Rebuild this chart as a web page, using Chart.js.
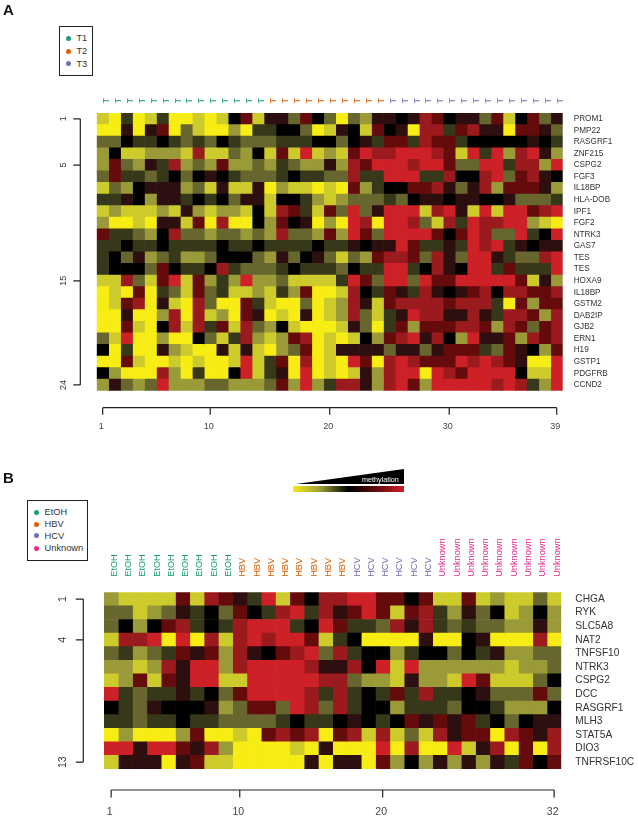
<!DOCTYPE html>
<html lang="en">
<head>
<meta charset="UTF-8">
<title>Methylation heatmaps</title>
<script src="https://cdn.jsdelivr.net/npm/chart.js"></script>
<style>
  html, body { margin: 0; padding: 0; background: #fff; }
  #page { position: relative; width: 638px; height: 820px; overflow: hidden; font-family: "Liberation Sans", Arial, sans-serif; }
  canvas { position: absolute; left: 0; filter: blur(0.35px); }
  .panel { position: absolute; left: 3px; font-size: 15px; font-weight: bold; color: #111; line-height: 15px; }
  .legend { position: absolute; box-sizing: border-box; border: 1.5px solid #222; background: #fff; color: #333; }
  .legend span { position: absolute; white-space: nowrap; }
  .legend i { position: absolute; width: 5px; height: 5px; border-radius: 50%; }
  #wedge { position: absolute; left: 296px; top: 469px; width: 108px; height: 15px; background: #000; clip-path: polygon(0 100%, 100% 0, 100% 100%); }
  #wedgeText { position: absolute; left: 362px; top: 475px; font-size: 7.2px; line-height: 9px; color: #fff; }
  #ramp { position: absolute; left: 293px; top: 486px; width: 111px; height: 6px; }
</style>
</head>
<body>
<div id="page">
  <canvas id="chartA" width="638" height="440" style="top:0"></canvas>
  <canvas id="chartB" width="638" height="380" style="top:440px"></canvas>
  <div class="panel" style="top:2px">A</div>
  <div class="panel" style="top:470px">B</div>
  <div id="legendA"></div>
  <div id="legendB"></div>
  <div id="wedge"></div>
  <div id="wedgeText">methylation</div>
  <div id="ramp"></div>
</div>

<script>
// methylation levels: 0 = yellow, 5 = black, 9 = red
const levelColors = ['#f7ec13', '#cdcb2c', '#9a9a38', '#66662e', '#37371a', '#000000', '#2e0f0f', '#650b0b', '#9a1a1e', '#cd2027'];
const groupColors = ['#1b9e77', '#d95f02', '#7570b3', '#e7298a'];

const genesA = ['PROM1', 'PMP22', 'RASGRF1', 'ZNF215', 'CSPG2', 'FGF3', 'IL18BP', 'HLA-DOB', 'IPF1', 'FGF2', 'NTRK3', 'GAS7',
  'TES', 'TES', 'HOXA9', 'IL18BP', 'GSTM2', 'DAB2IP', 'GJB2', 'ERN1', 'H19', 'GSTP1', 'PDGFRB', 'CCND2'];
const colLabelsA = ['T','T','T','T','T','T','T','T','T','T','T','T','T','T','T','T','T','T','T','T','T','T','T','T','T','T','T','T','T','T','T','T','T','T','T','T','T','T','T'];
const colGroupsA = [0,0,0,0,0,0,0,0,0,0,0,0,0,0,1,1,1,1,1,1,1,1,1,1,2,2,2,2,2,2,2,2,2,2,2,2,2,2,2];
const legendA = ['T1', 'T2', 'T3'];
const rowTicksA = [1, 5, 15, 24];
const colTicksA = [1, 10, 20, 30, 39];
const heatA = [
  [1,0,4,0,1,4,0,0,1,0,1,5,7,1,6,6,3,7,5,3,0,3,2,6,6,5,6,8,7,5,6,6,3,7,1,5,7,3,6],
  [0,0,6,0,6,7,0,3,1,0,0,2,0,4,4,5,5,3,0,1,6,5,1,7,5,6,0,8,8,4,7,8,6,6,0,7,7,6,3],
  [3,3,5,4,4,5,4,3,4,3,5,4,3,3,3,4,4,4,5,5,3,5,6,4,7,7,4,8,7,7,4,5,5,5,5,5,6,5,4],
  [2,5,1,1,2,2,2,1,8,1,1,3,2,5,1,7,1,9,1,2,1,7,9,8,8,9,9,9,8,7,1,9,4,9,2,8,9,6,2],
  [2,7,3,2,6,4,8,2,3,2,7,2,2,3,2,4,3,2,2,6,2,8,7,9,9,9,8,9,9,7,3,3,9,9,4,8,8,2,9],
  [3,7,4,4,3,4,5,3,5,6,5,4,3,3,3,4,5,4,4,3,3,8,4,4,9,9,9,4,4,8,5,5,8,9,3,7,8,6,5],
  [1,3,2,5,6,6,6,2,3,1,6,1,1,6,0,2,1,1,0,1,0,7,2,4,5,5,7,7,8,6,3,6,8,2,7,7,7,6,2],
  [4,4,6,5,2,6,6,4,5,4,5,3,6,6,1,5,5,4,2,1,2,3,3,3,4,3,5,6,6,5,6,6,5,5,6,3,3,3,4],
  [1,2,1,1,1,2,1,6,2,1,2,2,1,5,1,8,7,4,1,7,3,9,3,6,9,9,9,1,8,9,6,1,9,1,9,9,7,8,9],
  [2,0,0,1,0,6,6,1,7,0,8,0,0,5,2,7,5,6,0,2,0,9,8,0,9,9,8,3,1,8,4,9,8,8,9,9,2,1,0],
  [7,4,4,3,2,5,8,3,3,2,3,3,2,3,2,8,3,3,2,7,2,9,7,3,9,9,9,9,7,5,7,9,8,3,3,9,4,5,9],
  [4,4,5,4,4,5,4,4,4,4,5,4,4,5,4,4,4,4,5,4,4,6,5,6,6,9,7,4,4,6,4,9,8,9,4,6,5,6,6],
  [4,5,3,6,2,3,4,2,2,3,5,5,5,3,2,6,3,5,6,3,1,3,2,7,8,8,7,3,8,6,3,9,9,6,4,3,3,8,9],
  [4,5,5,5,3,7,5,4,4,5,8,4,3,3,3,4,5,4,4,4,3,5,4,4,9,9,4,5,8,6,5,9,9,4,7,4,4,4,9],
  [1,1,8,3,1,7,9,1,7,2,4,2,9,2,2,3,1,1,1,1,4,9,7,3,9,9,3,9,7,7,9,9,9,9,9,7,1,6,2],
  [0,1,0,7,0,4,3,1,7,3,4,1,1,2,1,4,2,7,0,0,1,8,5,4,7,6,4,8,6,5,6,7,8,5,8,8,7,7,8],
  [0,1,7,8,0,6,1,0,8,3,0,0,7,4,1,0,0,3,0,1,2,8,6,1,7,8,8,8,8,7,8,8,8,4,0,7,2,7,7],
  [0,0,6,0,0,2,8,0,8,1,2,0,7,6,0,1,0,6,0,1,2,8,3,1,4,6,9,8,8,6,6,8,6,4,8,8,7,2,8],
  [0,0,7,1,0,5,8,1,8,4,7,1,8,3,2,5,1,0,0,0,1,6,3,0,4,7,2,7,7,7,8,8,7,2,8,7,3,7,8],
  [3,1,9,0,0,2,0,0,5,3,1,4,8,2,1,2,7,8,0,1,0,1,5,2,7,8,9,6,8,5,2,9,6,6,7,2,8,7,8],
  [5,0,4,0,0,6,2,1,0,0,6,1,6,1,0,2,3,7,0,1,6,6,6,6,3,6,6,3,6,7,7,7,4,3,7,6,5,2,7],
  [0,0,7,1,0,0,1,0,1,0,0,1,9,1,4,7,0,8,0,1,0,9,7,0,8,9,8,7,7,7,9,8,9,8,7,6,0,0,9],
  [5,2,0,0,0,8,2,0,4,0,0,5,9,1,4,6,0,9,0,1,0,1,6,2,8,9,9,0,9,8,7,9,9,9,9,5,1,1,9],
  [2,6,3,2,3,9,2,2,2,3,3,2,2,2,3,7,2,9,2,4,8,8,6,2,8,9,7,2,9,9,9,9,9,8,9,8,4,2,9]
];

const genesB = ['CHGA', 'RYK', 'SLC5A8', 'NAT2', 'TNFSF10', 'NTRK3', 'CSPG2', 'DCC', 'RASGRF1', 'MLH3', 'STAT5A', 'DIO3', 'TNFRSF10C'];
const colLabelsB = ['EtOH','EtOH','EtOH','EtOH','EtOH','EtOH','EtOH','EtOH','EtOH','HBV','HBV','HBV','HBV','HBV','HBV','HBV','HBV','HCV','HCV','HCV','HCV','HCV','HCV','Unknown','Unknown','Unknown','Unknown','Unknown','Unknown','Unknown','Unknown','Unknown'];
const colGroupsB = [0,0,0,0,0,0,0,0,0,1,1,1,1,1,1,1,1,2,2,2,2,2,2,3,3,3,3,3,3,3,3,3];
const legendB = ['EtOH', 'HBV', 'HCV', 'Unknown'];
const rowTicksB = [1, 4, 13];
const colTicksB = [1, 10, 20, 32];
const heatB = [
  [2,1,1,1,1,7,1,8,7,6,4,9,1,7,5,8,8,9,9,7,7,5,7,1,1,7,1,2,1,1,3,1],
  [3,3,1,2,3,6,4,5,3,7,5,4,8,9,4,8,6,7,9,7,1,7,8,4,2,6,3,5,1,2,5,2],
  [3,5,2,5,7,8,4,5,4,8,9,9,9,4,5,9,7,4,4,3,8,6,8,4,3,4,3,3,2,2,6,2],
  [1,8,8,9,0,9,0,8,1,8,9,8,9,9,7,1,4,5,0,0,0,0,6,0,0,5,6,0,0,0,8,0],
  [3,4,2,3,4,7,6,7,2,8,6,5,7,8,9,3,8,4,5,5,2,4,5,5,3,5,4,6,2,2,3,3],
  [2,2,1,2,8,6,9,9,2,8,9,9,9,9,8,6,6,8,5,9,1,9,2,2,2,2,2,2,1,2,2,3],
  [1,2,7,1,7,6,9,9,1,1,9,9,9,9,9,8,8,3,2,2,1,6,2,2,1,9,7,1,1,1,3,5],
  [9,4,3,4,4,6,4,5,3,7,9,9,9,9,8,4,8,4,5,4,7,4,8,4,4,5,6,3,3,3,7,3],
  [5,4,3,6,5,5,5,6,2,3,7,7,3,9,8,3,8,4,5,5,2,4,4,4,3,5,5,4,2,2,2,5],
  [4,4,3,4,4,5,4,4,3,3,3,3,4,5,4,4,5,6,5,4,5,7,6,7,6,7,4,5,3,5,6,6],
  [0,2,0,0,0,2,7,0,0,1,0,7,8,7,8,0,7,8,1,8,1,3,1,8,6,7,7,0,8,7,6,8],
  [9,9,6,9,9,7,6,8,2,0,0,0,0,1,0,6,0,0,0,9,0,8,0,0,9,1,6,8,0,7,0,8],
  [1,6,6,6,0,6,7,1,1,0,0,0,0,0,6,0,6,6,0,7,2,5,2,6,2,6,2,6,4,7,5,7]
];

// R style detached axes: bracket line with ticks, placed off the plot area
const bracketPlugin = {
  id: 'bracket',
  afterDraw(chart, args, opts) {
    const ctx = chart.ctx, area = chart.chartArea;
    const left = chart.scales.rowAxis, bottom = chart.scales.x;
    ctx.save();
    ctx.strokeStyle = '#222';
    ctx.lineWidth = 1.2;
    ctx.beginPath();
    const lineX = opts.lineX;
    ctx.moveTo(lineX, left.getPixelForValue(opts.rowTicks[0]));
    ctx.lineTo(lineX, left.getPixelForValue(opts.rowTicks[opts.rowTicks.length - 1]));
    opts.rowTicks.forEach(v => {
      const y = left.getPixelForValue(v);
      ctx.moveTo(lineX - opts.tick, y);
      ctx.lineTo(lineX, y);
    });
    const lineY = area.bottom + opts.gapY;
    ctx.moveTo(bottom.getPixelForValue(opts.colTicks[0]), lineY);
    ctx.lineTo(bottom.getPixelForValue(opts.colTicks[opts.colTicks.length - 1]), lineY);
    opts.colTicks.forEach(v => {
      const x = bottom.getPixelForValue(v);
      ctx.moveTo(x, lineY);
      ctx.lineTo(x, lineY + opts.tick);
    });
    ctx.stroke();
    ctx.restore();
  }
};

function useTicks(values) {
  return scale => { scale.ticks = values.map(v => ({ value: v })); };
}
function fixHeight(h) { return scale => { scale.height = h; }; }
function fixWidth(w) { return scale => { scale.width = w; }; }

function heatmap(id, heat, genes, colLabels, colGroups, rowTicks, colTicks, lay) {
  const nCols = heat[0].length, nRows = heat.length;
  const colIndex = colLabels.map((_, i) => i + 1);
  const datasets = colIndex.map(c => ({
    data: heat.map(() => [c - 0.5, c + 0.5]),
    backgroundColor: heat.map(row => levelColors[row[c - 1]]),
    borderWidth: 0,
    barPercentage: 1,
    categoryPercentage: 1,
    grouped: false
  }));
  const hidden = { display: false, drawTicks: false };
  return new Chart(document.getElementById(id), {
    type: 'bar',
    plugins: [bracketPlugin],
    data: { labels: genes, datasets: datasets },
    options: {
      indexAxis: 'y',
      responsive: false,
      animation: false,
      layout: { autoPadding: false, padding: 0 },
      plugins: {
        legend: { display: false },
        tooltip: { enabled: false },
        bracket: { lineX: lay.lineX, gapY: lay.gapY, tick: lay.tick, rowTicks: rowTicks, colTicks: colTicks }
      },
      scales: {
        x: {
          type: 'linear', position: 'bottom', min: 0.5, max: nCols + 0.5,
          grid: hidden, border: { display: false },
          afterBuildTicks: useTicks(colTicks),
          afterFit: fixHeight(lay.bottom),
          ticks: { autoSkip: false, padding: lay.colPad, labelOffset: -1.5, color: '#444', font: { size: lay.numFont } }
        },
        colAxis: {
          axis: 'x', type: 'linear', position: 'top', min: 0.5, max: nCols + 0.5,
          grid: hidden, border: { display: false },
          afterBuildTicks: useTicks(colIndex),
          afterFit: fixHeight(lay.top),
          ticks: {
            autoSkip: false, padding: lay.topPad, labelOffset: lay.topShift, minRotation: 90, maxRotation: 90,
            font: { size: lay.topFont },
            color: c => groupColors[colGroups[c.index]],
            callback: (v, i) => colLabels[i]
          }
        },
        y: {
          type: 'category', position: 'right', offset: true,
          grid: hidden, border: { display: false },
          afterFit: fixWidth(lay.right),
          ticks: { autoSkip: false, padding: lay.genePad, color: '#333', font: { size: lay.geneFont } }
        },
        rowAxis: {
          axis: 'y', type: 'linear', position: 'left', reverse: true, offset: false, min: 0.5, max: nRows + 0.5,
          grid: hidden, border: { display: false },
          afterBuildTicks: useTicks(rowTicks),
          afterFit: fixWidth(lay.left),
          ticks: { autoSkip: false, padding: lay.rowPad, minRotation: 90, maxRotation: 90, crossAlign: 'center', color: '#333', font: { size: lay.numFont } }
        }
      }
    }
  });
}

Chart.defaults.font.family = '"Liberation Sans", Arial, sans-serif';

heatmap('chartA', heatA, genesA, colLabelsA, colGroupsA, rowTicksA, colTicksA, {
  left: 96.7, right: 75.3, top: 113, bottom: 49.3,
  lineX: 80.3, gapY: 17, tick: 7, colPad: 30, topPad: 9.5, topShift: 14.5, rowPad: 28, genePad: 11,
  numFont: 9, topFont: 9, geneFont: 8.2
});
heatmap('chartB', heatB, genesB, colLabelsB, colGroupsB, rowTicksB, colTicksB, {
  left: 104, right: 76.7, top: 152.3, bottom: 51,
  lineX: 83.3, gapY: 21, tick: 7.5, colPad: 37, topPad: 15.5, topShift: 14, rowPad: 35, genePad: 14,
  numFont: 10.5, topFont: 9.2, geneFont: 10.2
});

// legends and methylation key
function buildLegend(hostId, names, box, dotX, textX, rowY, fontSize) {
  const host = document.getElementById(hostId);
  const el = document.createElement('div');
  el.className = 'legend';
  el.style.cssText = `left:${box[0]}px;top:${box[1]}px;width:${box[2]}px;height:${box[3]}px;font-size:${fontSize}px;line-height:${fontSize + 2}px`;
  names.forEach((name, i) => {
    const dot = document.createElement('i');
    dot.style.cssText = `left:${dotX}px;top:${rowY[i] - 2.5}px;background:${groupColors[i]}`;
    const txt = document.createElement('span');
    txt.textContent = name;
    txt.style.cssText = `left:${textX}px;top:${rowY[i] - (fontSize + 2) / 2 + 0.8}px`;
    el.append(dot, txt);
  });
  host.append(el);
}
buildLegend('legendA', legendA, [59, 25.5, 34, 50], 6, 16.5, [11.5, 24.5, 37], 9.1);
buildLegend('legendB', legendB, [27, 500, 61, 61], 6, 16.5, [11, 23, 34.5, 47], 9.3);
document.getElementById('ramp').style.background =
  'linear-gradient(to right,' + [levelColors[0], levelColors[2], levelColors[5], levelColors[7], levelColors[9]].join(',') + ')';
</script>
</body>
</html>
